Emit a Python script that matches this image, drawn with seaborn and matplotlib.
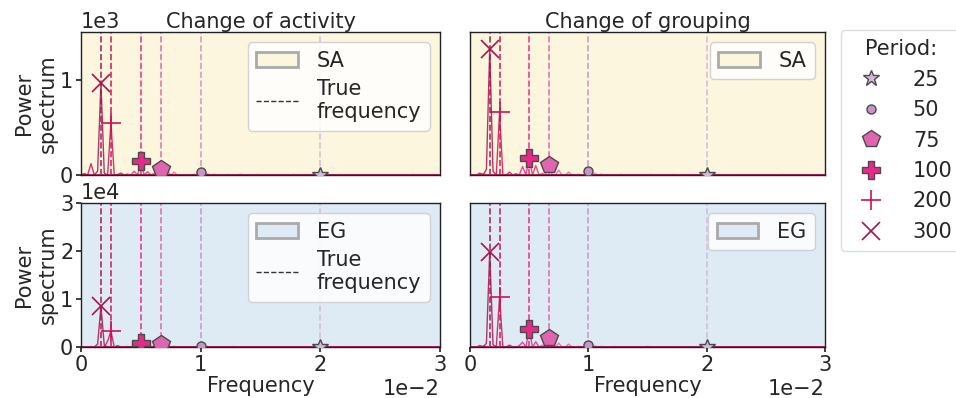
import numpy as np
import pandas as pd
import matplotlib
matplotlib.use("Agg")
import matplotlib.pyplot as plt
import seaborn as sns
from matplotlib.patches import Patch
from matplotlib.lines import Line2D

# ---------------- data ----------------
periods = [25, 50, 75, 100, 200, 300]
true_freq = [0.02, 0.01, 0.006667, 0.005, 0.0025, 0.001667]
freq_step = 1 / 3600          # frequency resolution of the spectra
n_bins = 109                  # 0 ... 0.03

# spectra stored sparsely: {frequency bin: power}, one dict per period (25 ... 300)
sa_activity = [
    {72: 5, 48: 12, 53: 8, 64: 10, 78: 8, 100: 8, 90: 5},
    {36: 30, 38: 15, 40: 10, 44: 6, 34: 8},
    {24: 65, 26: 40, 28: 30, 22: 20},
    {18: 150, 16: 40, 20: 35, 14: 10},
    {9: 550, 3: 120, 12: 20, 11: 5},
    {6: 960, 5: 40, 1: 15, 7: 20},
]
sa_grouping = [
    {72: 5, 46: 10, 55: 8, 62: 10, 80: 6, 95: 8},
    {36: 40, 38: 20, 40: 10, 33: 10},
    {24: 110, 27: 50, 30: 30, 22: 20},
    {18: 180, 16: 90, 20: 100, 14: 15},
    {9: 660, 12: 30, 4: 10},
    {6: 1320, 5: 60, 7: 40, 3: 20},
]
eg_activity = [
    {72: 100, 46: 150, 55: 120, 66: 100, 80: 120, 95: 80},
    {36: 150, 38: 120, 41: 80, 33: 60},
    {24: 600, 26: 300, 28: 150, 22: 200},
    {18: 800, 16: 300, 20: 400, 14: 100},
    {9: 3300, 8: 1200, 11: 300},
    {6: 8500, 5: 600, 7: 300},
]
eg_grouping = [
    {72: 100, 44: 150, 54: 200, 63: 150, 78: 120, 92: 100},
    {36: 400, 38: 250, 40: 150, 33: 150},
    {24: 1900, 27: 800, 30: 600, 22: 400},
    {18: 3700, 16: 1000, 20: 1100, 15: 300},
    {9: 10400, 12: 400, 4: 200},
    {6: 19800, 5: 800, 7: 500, 3: 300},
]

panel_titles = ["Change of activity", "Change of grouping"]
row_labels = ["SA", "EG"]
row_bg = ["#fcf6de", "#deebf4"]
row_ylim = [1500, 30000]
row_yticks = [[0, 1000], [0, 10000, 20000, 30000]]

# ---------------- styles ----------------
period_colors = ["#d4b9da", "#c994c7", "#df65b0", "#e7298a", "#ce1256", "#a8144f"]
period_markers = ["*", "o", "p", "P", "+", "x"]
marker_sizes = [12, 6.5, 13, 13, 14, 13]
edge_col = "#4a4a4a"

sns.set_theme(style="ticks")
plt.rcParams["font.family"] = ["DejaVu Sans"]
FS = 15
plt.rcParams["font.size"] = FS

fig = plt.figure(figsize=(9.56, 3.98), dpi=100)
W, H = 956, 398
def axbox(x0, y0, x1, y1):
    return [x0 / W, 1 - y1 / H, (x1 - x0) / W, (y1 - y0) / H]

boxes = [
    [axbox(81, 32, 440, 175), axbox(470, 32, 825, 175)],
    [axbox(81, 203, 440, 347), axbox(470, 203, 825, 347)],
]
spectra = [[sa_activity, sa_grouping], [eg_activity, eg_grouping]]
freqs = np.arange(n_bins) * freq_step

def marker_kw(i):
    filled = period_markers[i] not in ("+", "x")
    return dict(marker=period_markers[i], ms=marker_sizes[i],
                color=period_colors[i],
                mec=edge_col if filled else period_colors[i],
                mew=1.0 if filled else 1.2, ls="none")

for r in range(2):
    for c in range(2):
        ax = fig.add_axes(boxes[r][c])
        ax.set_facecolor(row_bg[r])
        # true frequency lines
        for i, f in enumerate(true_freq):
            ax.axvline(f, color=period_colors[i], ls="--", lw=1.2, alpha=0.9, zorder=1)
        # spectra
        for i, spec in enumerate(spectra[r][c]):
            power = np.zeros(n_bins)
            for b, v in spec.items():
                power[b] = v
            df = pd.DataFrame({"freq": freqs, "power": power})
            sns.lineplot(data=df, x="freq", y="power", color=period_colors[i],
                         lw=1.0, alpha=0.85, ax=ax, estimator=None, zorder=2)
        # peak markers
        for i, spec in enumerate(spectra[r][c]):
            b = int(round(true_freq[i] / freq_step))
            ax.plot([true_freq[i]], [spec.get(b, 0)], zorder=4, **marker_kw(i))
        ax.set_xlim(0, 0.03)
        ax.set_ylim(0, row_ylim[r])
        ax.set_xticks([0, 0.01, 0.02, 0.03])
        ax.set_yticks(row_yticks[r])
        ax.ticklabel_format(style="sci", axis="both", scilimits=(0, 0))
        ax.tick_params(labelsize=FS, length=3.5, pad=2)
        ax.xaxis.get_offset_text().set_fontsize(FS)
        ax.yaxis.get_offset_text().set_fontsize(FS)
        for s in ax.spines.values():
            s.set_color("#222222")
            s.set_linewidth(1.0)
        ax.set_xlabel("Frequency" if r == 1 else "", fontsize=FS, labelpad=1)
        if c == 0:
            ax.set_ylabel("Power\nspectrum", fontsize=FS, labelpad=2)
        else:
            ax.set_ylabel("")
            ax.tick_params(axis="y", left=False, labelleft=False)
            ax.yaxis.get_offset_text().set_visible(False)
        if r == 0:
            ax.set_title(panel_titles[c], fontsize=FS, pad=2)
            ax.tick_params(axis="x", bottom=False, labelbottom=False)
            ax.xaxis.get_offset_text().set_visible(False)
        handles = [Patch(facecolor=row_bg[r], edgecolor="#aaaaaa", lw=2, label=row_labels[r])]
        if c == 0:
            handles.append(Line2D([], [], color="#333333", ls="--", lw=1.0,
                                  label="True\nfrequency"))
        ax.legend(handles=handles, loc="upper right", fontsize=FS,
                  framealpha=0.85, borderpad=0.4, handlelength=2.0,
                  handletextpad=0.9, labelspacing=0.4)

fig_handles = [Line2D([], [], label=str(p), **marker_kw(i)) for i, p in enumerate(periods)]
fig.legend(handles=fig_handles, title="Period:", loc="upper left",
           bbox_to_anchor=(841 / W, 1 - 30 / H), fontsize=FS, title_fontsize=FS,
           frameon=True, framealpha=1, edgecolor="#dddddd", borderpad=0.45,
           handletextpad=1.0, labelspacing=0.5, borderaxespad=0)

fig.savefig("out.png", dpi=100)
